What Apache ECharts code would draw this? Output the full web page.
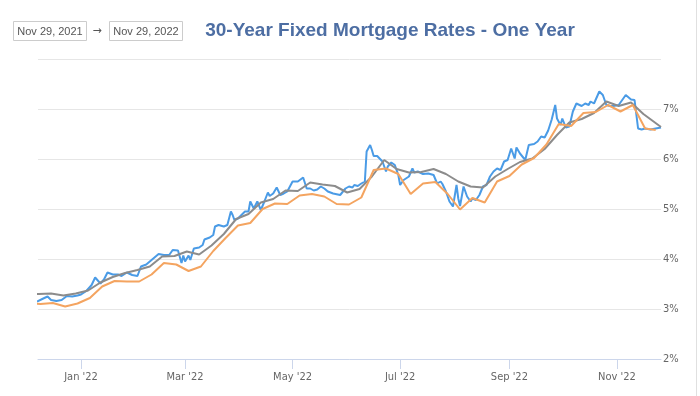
<!DOCTYPE html>
<html>
<head>
<meta charset="utf-8">
<script src="https://cdn.jsdelivr.net/npm/echarts@6/dist/echarts.min.js"></script>
<style>
html,body{margin:0;padding:0;background:#fff;}
#chart{width:700px;height:396px;}
</style>
</head>
<body>
<div id="chart"></div>
<script>
// ---- data ----
const dateFrom = 'Nov 29, 2021';
const dateTo = 'Nov 29, 2022';
const titleText = '30-Year Fixed Mortgage Rates - One Year';

const blueDates = [
'2021-12-07','2021-12-10','2021-12-13','2021-12-15','2021-12-18','2021-12-21','2021-12-24','2021-12-27','2021-12-30',
'2022-01-01','2022-01-04','2022-01-07','2022-01-09','2022-01-12','2022-01-14','2022-01-16','2022-01-19','2022-01-22','2022-01-24','2022-01-27','2022-01-30',
'2022-02-02','2022-02-04','2022-02-07','2022-02-10','2022-02-14','2022-02-17','2022-02-20','2022-02-22','2022-02-25','2022-02-27','2022-02-28',
'2022-03-01','2022-03-03','2022-03-04','2022-03-06','2022-03-09','2022-03-11','2022-03-12','2022-03-15','2022-03-17','2022-03-18','2022-03-20','2022-03-21','2022-03-23','2022-03-25','2022-03-27','2022-03-28','2022-03-29','2022-03-31',
'2022-04-02','2022-04-04','2022-04-06','2022-04-07','2022-04-09','2022-04-11','2022-04-13','2022-04-15','2022-04-17','2022-04-18','2022-04-20','2022-04-22','2022-04-24','2022-04-26','2022-04-28',
'2022-05-01','2022-05-02','2022-05-04','2022-05-07','2022-05-09','2022-05-11','2022-05-13','2022-05-15','2022-05-17','2022-05-19','2022-05-21','2022-05-24','2022-05-28','2022-05-29','2022-05-31',
'2022-06-02','2022-06-04','2022-06-05','2022-06-07','2022-06-09','2022-06-11','2022-06-12','2022-06-14','2022-06-15','2022-06-16','2022-06-18','2022-06-19','2022-06-21','2022-06-22','2022-06-23','2022-06-24','2022-06-26','2022-06-28','2022-06-30',
'2022-07-01','2022-07-03','2022-07-06','2022-07-08','2022-07-09','2022-07-11','2022-07-14','2022-07-17','2022-07-20','2022-07-22','2022-07-24','2022-07-25','2022-07-27','2022-07-29','2022-07-31',
'2022-08-02','2022-08-03','2022-08-04','2022-08-06','2022-08-08','2022-08-10','2022-08-11','2022-08-13','2022-08-15','2022-08-17','2022-08-19','2022-08-21','2022-08-23','2022-08-25','2022-08-27','2022-08-29','2022-08-31',
'2022-09-02','2022-09-04','2022-09-05','2022-09-07','2022-09-10','2022-09-11','2022-09-12','2022-09-15','2022-09-17','2022-09-19','2022-09-21','2022-09-23','2022-09-25','2022-09-27','2022-09-28','2022-09-30',
'2022-10-01','2022-10-03','2022-10-05','2022-10-07','2022-10-09','2022-10-12','2022-10-14','2022-10-16','2022-10-17','2022-10-19','2022-10-20','2022-10-22','2022-10-24','2022-10-26','2022-10-28','2022-10-30',
'2022-11-02','2022-11-04','2022-11-06','2022-11-07','2022-11-09','2022-11-11','2022-11-13','2022-11-15','2022-11-17','2022-11-20','2022-11-23','2022-11-24','2022-11-26'
];
const blueValues = [
3.15,3.20,3.25,3.18,3.16,3.18,3.26,3.25,3.27,
3.29,3.36,3.48,3.63,3.51,3.59,3.73,3.69,3.69,3.66,3.73,3.68,
3.66,3.85,3.89,3.98,4.10,4.08,4.08,4.18,4.17,3.92,4.07,
3.95,4.07,3.98,4.21,4.23,4.28,4.39,4.43,4.48,4.65,4.68,4.71,4.65,4.68,4.95,4.88,4.78,4.81,
4.88,4.95,4.95,5.15,5.01,5.15,4.98,5.15,5.33,5.26,5.31,5.43,5.28,5.31,5.35,
5.55,5.51,5.55,5.63,5.41,5.41,5.37,5.39,5.45,5.41,5.35,5.31,5.28,5.25,5.41,
5.45,5.43,5.48,5.46,5.51,5.55,6.15,6.28,6.18,6.06,6.06,6.08,5.95,5.85,5.75,5.85,5.93,5.88,5.68,
5.48,5.58,5.65,5.81,5.73,5.75,5.70,5.71,5.68,5.51,5.55,5.50,5.35,5.15,5.05,
5.48,5.21,5.06,5.45,5.25,5.15,5.21,5.18,5.28,5.45,5.48,5.65,5.75,5.81,5.78,5.95,5.98,
6.21,6.01,6.23,6.11,5.98,5.99,6.28,6.30,6.35,6.45,6.43,6.57,6.79,7.08,6.81,6.68,
6.81,6.63,6.65,6.95,7.11,7.06,7.11,7.08,7.15,7.11,7.19,7.35,7.28,7.08,7.06,7.06,
7.08,7.18,7.28,7.26,7.19,7.18,6.61,6.59,6.61,6.59,6.61,6.59,6.63
];

const grayDates = [
'2021-12-01','2021-12-08','2021-12-15','2021-12-22','2021-12-29',
'2022-01-05','2022-01-12','2022-01-19','2022-01-26','2022-02-02','2022-02-09','2022-02-16','2022-02-23',
'2022-03-02','2022-03-09','2022-03-16','2022-03-23','2022-03-30','2022-04-06','2022-04-13','2022-04-20','2022-04-27',
'2022-05-04','2022-05-11','2022-05-18','2022-05-25','2022-06-01','2022-06-08','2022-06-15','2022-06-22','2022-06-29',
'2022-07-06','2022-07-13','2022-07-20','2022-07-27','2022-08-03','2022-08-10','2022-08-17','2022-08-24','2022-08-31',
'2022-09-07','2022-09-14','2022-09-21','2022-09-28','2022-10-05','2022-10-12','2022-10-19','2022-10-26',
'2022-11-02','2022-11-09','2022-11-16','2022-11-26'
];
const grayValues = [
3.31,3.30,3.31,3.27,3.31,
3.37,3.53,3.64,3.72,3.78,3.85,4.05,4.06,
4.15,4.09,4.27,4.50,4.80,4.90,5.13,5.20,5.37,
5.36,5.53,5.49,5.46,5.33,5.40,5.65,5.98,5.80,
5.73,5.74,5.80,5.70,5.55,5.45,5.43,5.65,5.80,
5.94,6.01,6.20,6.48,6.73,6.80,6.92,7.15,
7.06,7.13,6.90,6.64
];

const orangeDates = [
'2021-12-02','2021-12-09','2021-12-16','2021-12-23','2021-12-30',
'2022-01-06','2022-01-13','2022-01-20','2022-01-27','2022-02-03','2022-02-10','2022-02-17','2022-02-24',
'2022-03-03','2022-03-10','2022-03-17','2022-03-24','2022-03-31','2022-04-07','2022-04-14','2022-04-21','2022-04-28',
'2022-05-05','2022-05-12','2022-05-19','2022-05-26','2022-06-02','2022-06-09','2022-06-16','2022-06-23','2022-06-30',
'2022-07-07','2022-07-14','2022-07-21','2022-07-28','2022-08-04','2022-08-11','2022-08-18','2022-08-25',
'2022-09-01','2022-09-08','2022-09-15','2022-09-22','2022-09-29','2022-10-06','2022-10-13','2022-10-20','2022-10-27',
'2022-11-03','2022-11-10','2022-11-17','2022-11-23'
];
const orangeValues = [
3.11,3.10,3.12,3.05,3.11,
3.22,3.45,3.56,3.55,3.55,3.69,3.92,3.89,
3.76,3.85,4.16,4.42,4.67,4.72,5.00,5.11,5.10,
5.27,5.30,5.25,5.10,5.09,5.23,5.78,5.81,5.70,
5.30,5.51,5.54,5.30,4.99,5.22,5.13,5.55,
5.66,5.89,6.02,6.29,6.70,6.66,6.92,6.94,7.08,
6.95,7.08,6.61,6.58
];

const xTickDates = ['2022-01-01','2022-03-01','2022-05-01','2022-07-01','2022-09-01','2022-11-01'];
const monthNames = ['Jan','Feb','Mar','Apr','May','Jun','Jul','Aug','Sep','Oct','Nov','Dec'];
const yMin = 2, yMax = 8, yStep = 1;

// ---- build ----
function ts(s){ const p = s.split('-').map(Number); return new Date(p[0], p[1]-1, p[2]).getTime(); }
function pairs(d, v){ return d.map((x,i)=>[ts(x), v[i]]); }
const xMin = new Date(2021, 11, 7, 14, 0).getTime();
const xMax = new Date(2022, 10, 26, 0, 0).getTime();
const tickTs = xTickDates.map(ts);
const axisFont = "'Liberation Sans Narrow','DejaVu Sans Condensed','Arial Narrow',sans-serif";

const chart = echarts.init(document.getElementById('chart'), null, {renderer:'canvas'});
chart.setOption({
  animation: false,
  backgroundColor: '#ffffff',
  grid: {left: 38, right: 39, top: 59, bottom: 37, containLabel: false},
  xAxis: {
    type: 'value', min: xMin, max: xMax, scale: true,
    axisLine: {show: true, lineStyle: {color: '#ccd6eb', width: 1}},
    axisTick: {show: true, length: 10, lineStyle: {color: '#ccd6eb'}, customValues: tickTs},
    axisLabel: {
      customValues: tickTs, margin: 13, color: '#666666', fontSize: 11, fontFamily: axisFont,
      formatter: function (v) { const d = new Date(v); return monthNames[d.getMonth()] + " '" + String(d.getFullYear()).slice(2); }
    },
    splitLine: {show: false}
  },
  yAxis: {
    type: 'value', position: 'right', min: yMin, max: yMax, interval: yStep,
    axisLine: {show: false}, axisTick: {show: false},
    axisLabel: {formatter: '{value}%', showMaxLabel: false, margin: 2, color: '#666666', fontSize: 11, fontFamily: axisFont, padding: [0,0,4,0]},
    splitLine: {show: true, lineStyle: {color: '#e6e6e6', width: 1}}
  },
  series: [
    {name: 'Daily', type: 'line', data: pairs(blueDates, blueValues), showSymbol: false, lineStyle: {color: '#4a9be6', width: 2}, itemStyle:{color:'#4a9be6'}, z: 2},
    {name: 'Weekly A', type: 'line', data: pairs(grayDates, grayValues), showSymbol: false, lineStyle: {color: '#8c8c8c', width: 2}, itemStyle:{color:'#8c8c8c'}, z: 3},
    {name: 'Weekly B', type: 'line', data: pairs(orangeDates, orangeValues), showSymbol: false, lineStyle: {color: '#f4a460', width: 2}, itemStyle:{color:'#f4a460'}, z: 4}
  ],
  graphic: [
    {type: 'rect', shape: {x: 13.5, y: 21.5, width: 73, height: 19}, style: {fill: '#fff', stroke: '#cccccc', lineWidth: 1}},
    {type: 'text', x: 50, y: 31.5, style: {text: dateFrom, align: 'center', verticalAlign: 'middle', fill: '#555', font: "11px 'Liberation Sans', Arial, sans-serif"}},
    {type: 'text', x: 97, y: 31, style: {text: '\u2192', align: 'center', verticalAlign: 'middle', fill: '#555', font: "11px 'DejaVu Sans', sans-serif"}},
    {type: 'rect', shape: {x: 109.5, y: 21.5, width: 73, height: 19}, style: {fill: '#fff', stroke: '#cccccc', lineWidth: 1}},
    {type: 'text', x: 146, y: 31.5, style: {text: dateTo, align: 'center', verticalAlign: 'middle', fill: '#555', font: "11px 'Liberation Sans', Arial, sans-serif"}},
    {type: 'text', x: 390, y: 31, style: {text: titleText, align: 'center', verticalAlign: 'middle', fill: '#4d6ea3', font: "bold 19px 'Liberation Sans', Arial, sans-serif"}},
    {type: 'line', shape: {x1: 696.5, y1: 0, x2: 696.5, y2: 396}, style: {stroke: '#e0e0e0', lineWidth: 1}}
  ]
});
</script>
</body>
</html>
